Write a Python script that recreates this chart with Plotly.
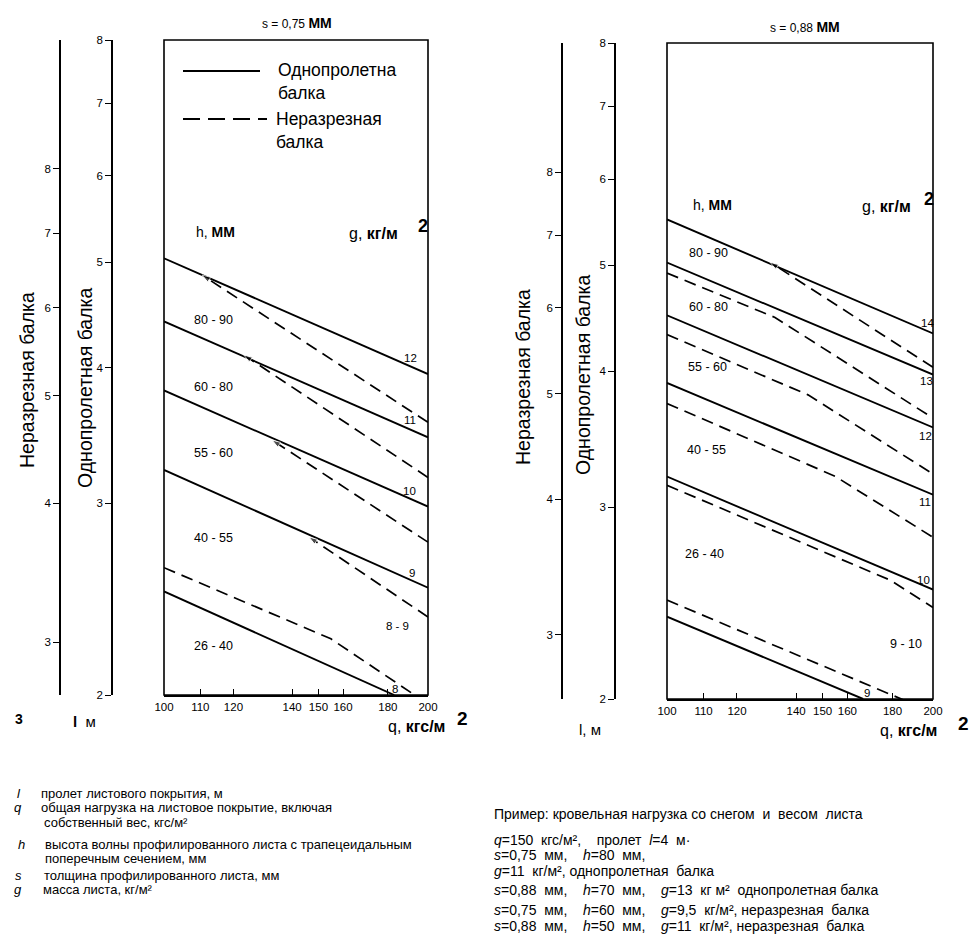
import math
import plotly.graph_objects as go

W, H = 978, 941

# ---------------- data ----------------
q_ticks = [100, 110, 120, 140, 150, 160, 180, 200]
l_single_ticks = [2, 3, 4, 5, 6, 7, 8]
l_cont_ticks = [3, 4, 5, 6, 7, 8]

# s = 0.75 mm : single-span beam (solid), span l [m] vs load q [kgf/m2]
s075_solid_g = ["12", "11", "10", "9", "8"]
s075_solid_q = [[100, 200], [100, 200], [100, 200], [100, 200], [100, 183]]
s075_solid_l = [[5.04, 3.945], [4.41, 3.45], [3.81, 2.98], [3.22, 2.51], [2.49, 2.0]]
# s = 0.75 mm : continuous beam (dashed), span read on the continuous-beam axis
s075_dash_q = [[110.5, 200], [123.3, 200], [132.8, 200], [146.3, 200], [100, 155, 192.8]]
s075_dash_l = [[6.42, 4.73], [5.44, 4.22], [4.56, 3.69], [3.73, 3.16], [3.50, 3.02, 2.69]]
s075_dash_arrow = [True, True, True, True, False]
s075_single_range = [2, 8]
s075_cont_range = [2.688, 10.45]

# s = 0.88 mm
s088_solid_g = ["14", "13", "12", "11", "10", "9"]
s088_solid_q = [[100, 200], [100, 200], [100, 200], [100, 200], [100, 200], [100, 166.7]]
s088_solid_l = [[5.51, 4.33], [5.03, 3.97], [4.50, 3.55], [3.90, 3.08], [3.20, 2.52], [2.38, 2.0]]
s088_dash_q = [[130.8, 200], [100, 132.5, 200], [100, 144.4, 200], [100, 154.9, 200],
               [100, 178.8, 200], [100, 186]]
s088_dash_l = [[6.61, 5.29], [6.46, 5.88, 4.75], [5.67, 4.99, 4.22], [4.90, 4.20, 3.69],
               [4.12, 3.37, 3.18], [3.23, 2.61]]
s088_dash_arrow = [True, False, False, False, False, False]
s088_single_range = [2, 8]
s088_cont_range = [2.619, 10.52]

# h labels (mm) and g labels (kg/m2)
s075_h_labels = ["80 - 90", "60 - 80", "55 - 60", "40 - 55", "26 - 40"]
s075_g_labels = ["12", "11", "10", "9", "8 - 9", "8"]
s088_h_labels = ["80 - 90", "60 - 80", "55 - 60", "40 - 55", "26 - 40", "9 - 10"]
s088_g_labels = ["14", "13", "12", "11", "10", "9"]

FONT = "Liberation Sans, Arial, Helvetica, sans-serif"


def P(x):
    return x / W


def Q(y):
    return 1 - y / H


fig = go.Figure()

panels = [
    dict(xa="x", ya="y", yc="y3", solid_q=s075_solid_q, solid_l=s075_solid_l,
         dash_q=s075_dash_q, dash_l=s075_dash_l, arrow=s075_dash_arrow),
    dict(xa="x2", ya="y2", yc="y4", solid_q=s088_solid_q, solid_l=s088_solid_l,
         dash_q=s088_dash_q, dash_l=s088_dash_l, arrow=s088_dash_arrow),
]

DASH = "12px,7px"
for p in panels:
    for qs, ls in zip(p["solid_q"], p["solid_l"]):
        fig.add_trace(go.Scatter(x=qs, y=ls, xaxis=p["xa"], yaxis=p["ya"], mode="lines",
                                 line=dict(color="black", width=1.9), hoverinfo="skip"))
    for qs, ls, arr in zip(p["dash_q"], p["dash_l"], p["arrow"]):
        if arr:
            xs, ys = qs[::-1], ls[::-1]
            fig.add_trace(go.Scatter(x=xs, y=ys, xaxis=p["xa"], yaxis=p["yc"], mode="lines+markers",
                                     line=dict(color="black", width=1.7, dash=DASH),
                                     marker=dict(symbol="arrow", angleref="previous", color="black",
                                                 size=[0] * (len(xs) - 1) + [9]),
                                     hoverinfo="skip"))
        else:
            fig.add_trace(go.Scatter(x=qs, y=ls, xaxis=p["xa"], yaxis=p["yc"], mode="lines",
                                     line=dict(color="black", width=1.7, dash=DASH),
                                     hoverinfo="skip"))

axis_common = dict(showgrid=False, zeroline=False, linecolor="black", linewidth=1.5,
                   tickcolor="black", tickfont=dict(size=11.5, family=FONT, color="black"),
                   fixedrange=True, automargin=False)


def xaxis(dom, anchor):
    return dict(type="log", range=[math.log10(100), math.log10(200)], domain=dom, anchor=anchor,
                showline=True, ticks="inside", ticklen=6, tickwidth=1.2,
                tickvals=q_ticks, ticktext=[str(v) for v in q_ticks], **axis_common)


def yaxis(rng, dom, pos, ticks_v, overlay=None):
    d = dict(type="log", range=[math.log10(rng[0]), math.log10(rng[1])], anchor="free",
             position=pos, showline=True, ticks="outside", ticklen=6, tickwidth=1.2,
             tickvals=ticks_v, ticktext=[str(v) for v in ticks_v], **axis_common)
    if overlay:
        d["overlaying"] = overlay
    else:
        d["domain"] = dom
    return d


fig.update_layout(
    template="none",
    width=W, height=H, margin=dict(l=0, r=0, t=0, b=0, pad=0, autoexpand=False),
    paper_bgcolor="white", plot_bgcolor="rgba(0,0,0,0)", showlegend=False,
    font=dict(family=FONT, color="black", size=11),
    xaxis=xaxis([P(164), P(428)], "y"),
    yaxis=yaxis(s075_single_range, [Q(695), Q(40)], P(112), l_single_ticks),
    yaxis3=yaxis(s075_cont_range, None, P(60), l_cont_ticks, overlay="y"),
    xaxis2=xaxis([P(667), P(933)], "y2"),
    yaxis2=yaxis(s088_single_range, [Q(699), Q(43)], P(615), l_single_ticks),
    yaxis4=yaxis(s088_cont_range, None, P(562), l_cont_ticks, overlay="y2"),
)

shapes = []
for xr, yr in [("x domain", "y domain"), ("x2 domain", "y2 domain")]:
    shapes.append(dict(type="rect", xref=xr, yref=yr, x0=0, x1=1, y0=0, y1=1,
                       line=dict(color="black", width=1.6)))
# legend samples
shapes.append(dict(type="line", xref="paper", yref="paper", x0=P(183), x1=P(260), y0=Q(71), y1=Q(71),
                   line=dict(color="black", width=2)))
shapes.append(dict(type="line", xref="paper", yref="paper", x0=P(183), x1=P(267), y0=Q(119), y1=Q(119),
                   line=dict(color="black", width=2, dash="17px,8px")))
fig.update_layout(shapes=shapes)

anns = []


def ann(text, x, y, size=11, xanchor="center", yanchor="middle", angle=0, align="left"):
    anns.append(dict(text=text, x=P(x), y=Q(y), xref="paper", yref="paper", showarrow=False,
                     xanchor=xanchor, yanchor=yanchor, textangle=angle, align=align,
                     font=dict(size=size, family=FONT, color="black")))


# axis titles
ann("Неразрезная балка", 27, 380, size=19.5, angle=-90)
ann("Однопролетная балка", 85, 388, size=19.5, angle=-90)
ann("Неразрезная балка", 523, 377, size=19.5, angle=-90)
ann("Однопролетная балка", 583, 375, size=19.5, angle=-90)

# panel titles
ann("s = 0,75 <b><span style='font-size:14px'>ММ</span></b>", 297, 23, size=12)
ann("s = 0,88 <b><span style='font-size:14px'>ММ</span></b>", 805, 27, size=12)

# legend texts
ann("Однопролетна<br>балка", 276, 82, size=17.5, xanchor="left")
ann("Неразрезная<br>балка", 274, 130, size=17.5, xanchor="left")

# inner headers
ann("h, <b>ММ</b>", 215, 232, size=14)
ann("g, <b>кг/м</b>", 373, 233, size=16)
ann("<b>2</b>", 423, 226, size=18)
ann("h, <b>ММ</b>", 712, 205, size=14)
ann("g, <b>кг/м</b>", 886, 206, size=16)
ann("<b>2</b>", 929, 199, size=18)

# h labels
for t, y in zip(s075_h_labels, [320, 387, 453, 538, 646]):
    ann(t, 213, y, size=12.5)
for t, (x, y) in zip(s088_h_labels, [(708, 253), (708, 307), (707, 367), (706, 450), (704, 554), (906, 644)]):
    ann(t, x, y, size=12.5)
# g labels
for t, (x, y) in zip(s075_g_labels, [(410, 358), (410, 420), (409, 491), (412, 573), (397, 626), (395, 689)]):
    ann(t, x, y, size=11.5)
for t, (x, y) in zip(s088_g_labels, [(927, 323), (926, 381), (925, 436), (925, 502), (923, 580), (867, 693)]):
    ann(t, x, y, size=11.5)

# bottom axis labels
ann("<b>3</b>", 19, 719, size=14)
ann("<b>l</b>  м", 84, 721, size=15)
ann("q, <b>кгс/м</b>", 416, 726, size=16)
ann("<b>2</b>", 462, 718, size=19)
ann("l, м", 590, 729, size=15)
ann("q, <b>кгс/м</b>", 908, 730, size=16)
ann("<b>2</b>", 963, 723, size=19)

# notes left
NOTE = 13
notes_sym = [("<i>l</i>", 19, 793), ("<i>q</i>", 18, 807), ("<i>h</i>", 21, 844),
             ("<i>s</i>", 18, 875), ("<i>g</i>", 18, 889)]
for t, x, y in notes_sym:
    ann(t, x, y, size=NOTE, xanchor="center")
notes_txt = [("пролет листового покрытия, м", 39, 793),
             ("общая нагрузка на листовое покрытие, включая", 39, 807),
             ("собственный вес, кгс/м²", 42, 822),
             ("высота волны профилированного листа с трапецеидальным", 43, 844),
             ("поперечным сечением, мм", 43, 858),
             ("толщина профилированного листа, мм", 42, 875),
             ("масса листа, кг/м²", 41, 889)]
for t, x, y in notes_txt:
    ann(t, x, y, size=NOTE, xanchor="left")

nb = "\u00a0"
sp2, sp3 = nb * 2, nb * 4
ex_lines = [
    ("Пример: кровельная нагрузка со снегом" + sp2 + "и" + sp2 + "весом" + sp2 + "листа", 814),
    ("<i>q</i>=150" + sp2 + "кгс/м²," + sp3 + "пролет" + sp2 + "<i>l</i>=4" + sp2 + "м·", 840),
    ("<i>s</i>=0,75" + sp2 + "мм," + sp3 + "<i>h</i>=80" + sp2 + "мм,", 855),
    ("<i>g</i>=11" + nb + " кг/м², однопролетная" + sp2 + "балка", 871),
    ("<i>s</i>=0,88" + sp2 + "мм," + sp3 + "<i>h</i>=70" + sp2 + "мм," + sp3 + "<i>g</i>=13" + sp2
     + "кг м²" + sp2 + "однопролетная балка", 890),
    ("<i>s</i>=0,75" + sp2 + "мм," + sp3 + "<i>h</i>=60" + sp2 + "мм," + sp3 + "<i>g</i>=9,5" + sp2
     + "кг/м², неразрезная" + sp2 + "балка", 910),
    ("<i>s</i>=0,88" + sp2 + "мм," + sp3 + "<i>h</i>=50" + sp2 + "мм," + sp3 + "<i>g</i>=11" + sp2
     + "кг/м², неразрезная" + sp2 + "балка", 926),
]
for t, y in ex_lines:
    ann(t, 492, y, size=14, xanchor="left")

fig.update_layout(annotations=anns)

fig.write_html("out.html", config={"displayModeBar": False},
               post_script="document.body.style.margin='0';")
